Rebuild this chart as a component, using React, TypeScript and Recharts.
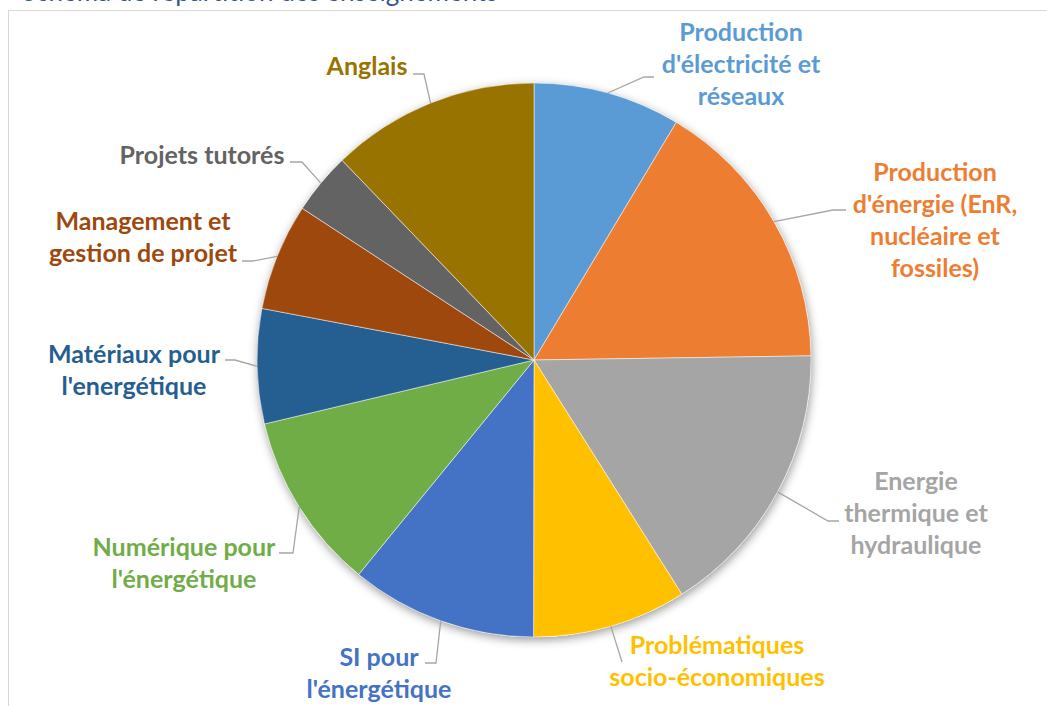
import { PieChart, Pie, Cell } from "recharts";

// Répartition des enseignements (parts en %)
const subjects = [
  "Production d'électricité et réseaux",
  "Production d'énergie (EnR, nucléaire et fossiles)",
  "Energie thermique et hydraulique",
  "Problématiques socio-économiques",
  "SI pour l'énergétique",
  "Numérique pour l'énergétique",
  "Matériaux pour l'energétique",
  "Management et gestion de projet",
  "Projets tutorés",
  "Anglais",
];
const shares = [8.6, 16.2, 16.3, 9.0, 10.9, 10.4, 6.7, 6.25, 3.6, 12.2];
const colors = [
  "#5B9BD5",
  "#ED7D31",
  "#A5A5A5",
  "#FFC000",
  "#4472C4",
  "#70AD47",
  "#255E91",
  "#9E480E",
  "#636363",
  "#997300",
];
const labelLines = [
  ["Production", "d'électricité et", "réseaux"],
  ["Production", "d'énergie (EnR,", "nucléaire et", "fossiles)"],
  ["Energie", "thermique et", "hydraulique"],
  ["Problématiques", "socio-économiques"],
  ["SI pour", "l'énergétique"],
  ["Numérique pour", "l'énergétique"],
  ["Matériaux pour", "l'energétique"],
  ["Management et", "gestion de projet"],
  ["Projets tutorés"],
  ["Anglais"],
];

// label placement, relative to the pie centre (Excel "best fit" layout)
const labelLayout = [
  { tx: 207, ty: -328, ex: 110, ey: -283, hx: 120 },
  { tx: 401, ty: -188, ex: 299, ey: -150, hx: 312 },
  { tx: 382, ty: 121, ex: 294, ey: 161, hx: 305 },
  { tx: 183, ty: 285, ex: 88, ey: 302, hx: 88 },
  { tx: -155, ty: 297, ex: -98, ey: 303, hx: -109 },
  { tx: -350, ty: 187, ex: -241, ey: 193, hx: -255 },
  { tx: -400, ty: -6, ex: -299, ey: 0, hx: -309 },
  { tx: -391, ty: -139, ex: -281, ey: -99, hx: -292 },
  { tx: -332, ty: -205, ex: -232, ey: -198, hx: -244 },
  { tx: -167, ty: -294, ex: -110, ey: -286, hx: -121 },
];

const data = subjects.map((name, i) => ({ name, value: shares[i] }));
const total = shares.reduce((a, b) => a + b, 0);

const CX = 534;
const CY = 360;
const R = 277;
const RAD = Math.PI / 180;
const LINE_H = 32;
const FONT = "Lato, 'Open Sans', sans-serif";

const renderLabel = (props: any) => {
  const { cx, cy, midAngle, outerRadius, index } = props;
  const lay = labelLayout[index];
  const sx = cx + outerRadius * Math.cos(-midAngle * RAD);
  const sy = cy + outerRadius * Math.sin(-midAngle * RAD);
  const ex = cx + lay.ex;
  const ey = cy + lay.ey;
  const hx = cx + lay.hx;
  const lines = labelLines[index];
  return (
    <g key={`lbl-${index}`}>
      <polyline
        points={`${sx},${sy} ${ex},${ey} ${hx},${ey}`}
        fill="none"
        stroke="#A6A6A6"
        strokeWidth={1.3}
      />
      <text
        x={cx + lay.tx}
        y={cy + lay.ty}
        textAnchor="middle"
        fill={colors[index]}
        fontFamily={FONT}
        fontWeight={700}
        fontSize={25}
      >
        {lines.map((l, j) => (
          <tspan key={j} x={cx + lay.tx} y={cy + lay.ty + j * LINE_H + 9}>
            {l}
          </tspan>
        ))}
      </text>
    </g>
  );
};

export default function App() {
  return (
    <div
      style={{
        position: "absolute",
        left: 0,
        top: 0,
        width: 1047,
        height: 706,
        overflow: "hidden",
        background: "#fff",
      }}
    >
      <div
        style={{
          position: "absolute",
          left: 8,
          top: 10,
          width: 1200,
          height: 900,
          border: "1px solid #D9D9D9",
        }}
      />
      <div
        style={{
          position: "absolute",
          left: 22,
          top: -24,
          fontFamily: FONT,
          fontSize: 26,
          color: "#2F5597",
          whiteSpace: "nowrap",
          lineHeight: "30px",
        }}
      >
        Schéma de répartition des enseignements
      </div>
      <div style={{ position: "absolute", left: 0, top: 0 }}>
        <PieChart
          width={1047}
          height={706}
          margin={{ top: 0, right: 0, bottom: 0, left: 0 }}
        >
          <defs>
            <filter id="pieShadow" x="-20%" y="-20%" width="140%" height="140%">
              <feDropShadow dx="1" dy="3" stdDeviation="5" floodColor="#000" floodOpacity="0.4" />
            </filter>
          </defs>
          <Pie
            data={[{ name: "total", value: total }]}
            dataKey="value"
            cx={CX}
            cy={CY}
            outerRadius={R}
            startAngle={90}
            endAngle={-270}
            stroke="none"
            isAnimationActive={false}
          >
            <Cell fill="#ffffff" filter="url(#pieShadow)" />
          </Pie>
          <Pie
            data={data}
            dataKey="value"
            nameKey="name"
            cx={CX}
            cy={CY}
            outerRadius={R}
            startAngle={90}
            endAngle={-270}
            stroke="#ffffff"
            strokeWidth={0.5}
            label={renderLabel}
            labelLine={false}
            isAnimationActive={false}
          >
            {data.map((d, i) => (
              <Cell key={d.name} fill={colors[i]} />
            ))}
          </Pie>
        </PieChart>
      </div>
    </div>
  );
}
